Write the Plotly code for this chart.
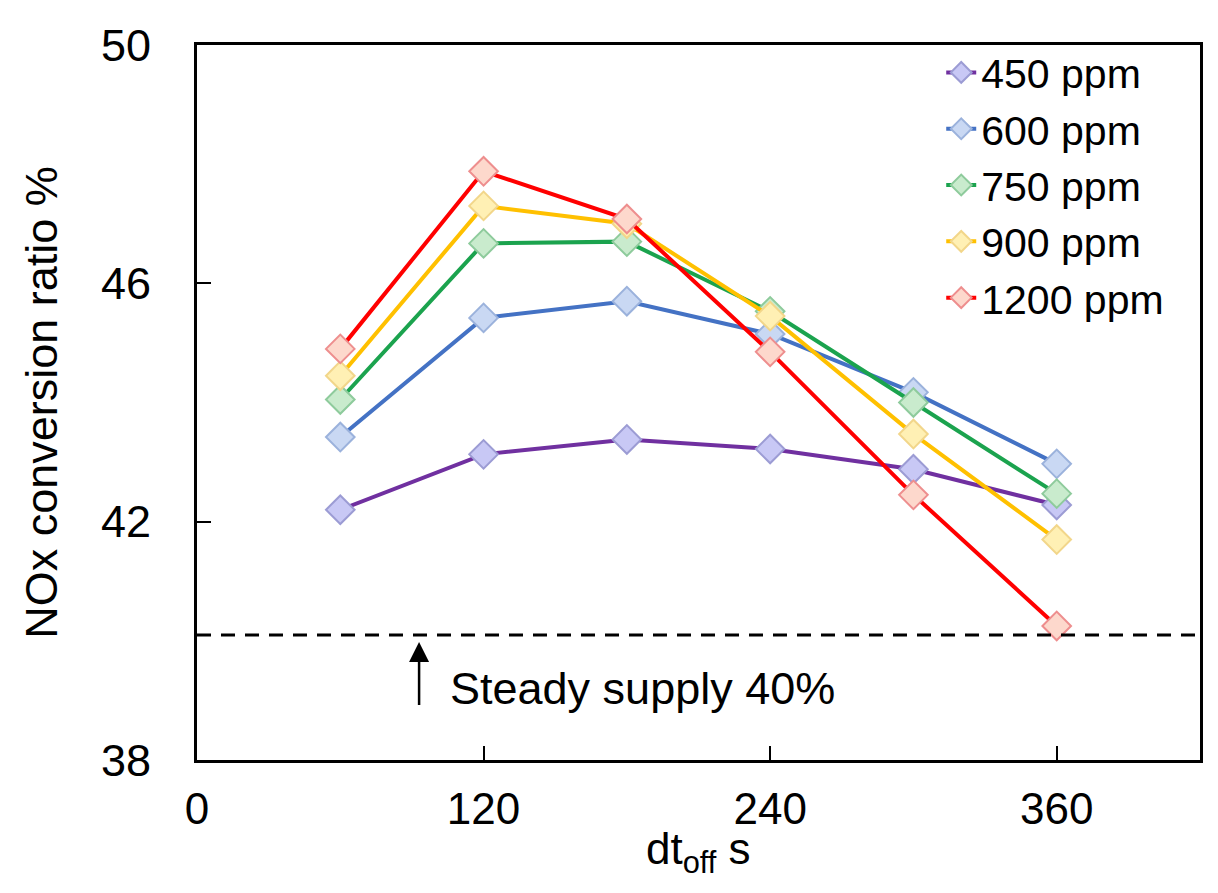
import plotly.graph_objects as go

dt_off = [60, 120, 180, 240, 300, 360]
series_names = ["450 ppm", "600 ppm", "750 ppm", "900 ppm", "1200 ppm"]
nox_450 = [42.2, 43.13, 43.38, 43.22, 42.88, 42.28]
nox_600 = [43.42, 45.42, 45.7, 45.15, 44.17, 42.97]
nox_750 = [44.05, 46.67, 46.7, 45.53, 44.0, 42.47]
nox_900 = [44.45, 47.3, 47.0, 45.45, 43.47, 41.7]
nox_1200 = [44.9, 47.88, 47.08, 44.85, 42.45, 40.25]
steady_supply = 40.1
x_ticks = [0, 120, 240, 360]
y_ticks = [38, 42, 46, 50]

line_colors = ["#7030A0", "#4472C4", "#1BA34E", "#FFC000", "#FF0000"]
fill_colors = ["#C8C8F5", "#C9D8F3", "#C9EBCD", "#FFF0B4", "#FDD8CC"]
edge_colors = ["#9C9CD4", "#9BB2DC", "#8ECB9C", "#F2D68A", "#EE8E8E"]

FONT = "Liberation Sans, Arial, sans-serif"

fig = go.Figure()
for name, vals, lc, fc, ec in zip(series_names,
                                  [nox_450, nox_600, nox_750, nox_900, nox_1200],
                                  line_colors, fill_colors, edge_colors):
    fig.add_trace(go.Scatter(
        x=dt_off, y=vals, name=name, mode="lines+markers",
        line=dict(color=lc, width=4),
        marker=dict(symbol="diamond", size=22, color=fc,
                    line=dict(color=ec, width=2)),
    ))

# steady supply reference line
fig.add_shape(type="line", xref="x", yref="y", x0=0, x1=420,
              y0=steady_supply, y1=steady_supply,
              line=dict(color="black", width=3, dash="14px,10px"))

fig.add_annotation(x=93, y=steady_supply - 0.12, ax=93, ay=38.78,
                   xref="x", yref="y", axref="x", ayref="y",
                   text=" ", showarrow=True, arrowhead=2, arrowsize=1.6,
                   arrowwidth=2.5, arrowcolor="black")
fig.add_annotation(x=105, y=39.2, xref="x", yref="y", xanchor="left",
                   yanchor="middle", text="Steady supply 40%", showarrow=False,
                   font=dict(family=FONT, size=45, color="black"))

# x-axis title
fig.add_annotation(x=0.5, y=-0.128, xref="paper", yref="paper",
                   xanchor="center", yanchor="middle",
                   text="dt<sub>off</sub> s", showarrow=False,
                   font=dict(family=FONT, size=44, color="black"))

fig.update_layout(
    width=1210, height=885,
    margin=dict(l=189, r=18, t=32, b=133),
    paper_bgcolor="white", plot_bgcolor="white",
    font=dict(family=FONT, color="black"),
    showlegend=True,
    legend=dict(x=0.742, y=1.008, xanchor="left", yanchor="top",
                bgcolor="rgba(255,255,255,0)", borderwidth=0,
                font=dict(family=FONT, size=41, color="black"),
                tracegroupgap=0),
)
fig.update_xaxes(range=[0, 420], tickvals=x_ticks, ticks="inside", ticklen=14,
                 tickwidth=2, tickcolor="black", showline=True, linecolor="black",
                 linewidth=3, mirror=True, showgrid=False, zeroline=False,
                 tickfont=dict(family=FONT, size=44), ticklabelstandoff=8)
fig.update_yaxes(range=[38, 50], tickvals=y_ticks, ticks="inside", ticklen=14,
                 tickwidth=2, tickcolor="black", showline=True, linecolor="black",
                 linewidth=3, mirror=True, showgrid=False, zeroline=False,
                 tickfont=dict(family=FONT, size=45), ticklabelstandoff=34,
                 title=dict(text="NOx conversion ratio %", standoff=30,
                            font=dict(family=FONT, size=45)))

fig.write_html("out.html")
